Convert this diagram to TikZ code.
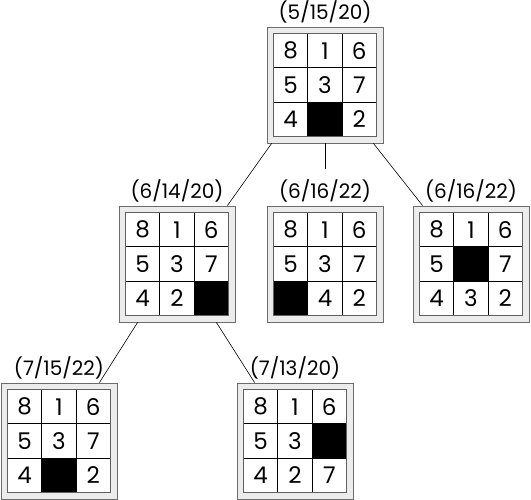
\documentclass[tikz,border=0pt]{standalone}
\usepackage{fontspec}
\setmainfont{Poppins}
\usetikzlibrary{calc,positioning}
\tikzset{%
    board/.style={%
        rectangle, draw=gray!85!black, fill=gray!15, minimum width=116pt, minimum height=116pt, line width=0.8pt
    },
    tile/.style={%
        rectangle, draw=black, fill=white, minimum size=34.3pt, inner sep=0pt, line width=1.2pt, font=\fontsize{23}{23}\selectfont
    },
    hole/.style={%
        tile, fill=black
    },
    frame/.style={%
        draw=gray!75!black, line width=1.5pt
    },
    cost/.style={%
        font=\fontsize{20}{20}\selectfont, inner sep=1pt
    },
    edge/.style={%
        draw, line width=0.6pt
    },
}
\begin{document}
\begin{tikzpicture}[x=1pt,y=1pt]
    \useasboundingbox (0,0) rectangle (531,500);

    \foreach \pname/\x/\y/\g/\h/\f/\tiles in {%
        root/325/415/5/15/20/{8,1,6,5,3,7,4,0,2},
        left/177/236/6/14/20/{8,1,6,5,3,7,4,2,0},
        mid/325/236/6/16/22/{8,1,6,5,3,7,0,4,2},
        right/471/236/6/16/22/{8,1,6,5,0,7,4,3,2},
        leftleft/59/59/7/15/22/{8,1,6,5,3,7,4,0,2},
        leftright/295/59/7/13/20/{8,1,6,5,3,0,4,2,7}}
    {
        \node[board] (\pname) at (\x,\y) {};
        \node[cost, above=2pt of \pname] (\pname-cost) {(\g/\h/\f)};
        \foreach \t [count=\i from 0] in \tiles {
            \pgfmathtruncatemacro{\col}{mod(\i,3)}
            \pgfmathtruncatemacro{\row}{div(\i,3)}
            \ifnum\t=0
                \node[hole] (\pname-\i) at ({\x+(\col-1)*34.3},{\y-(\row-1)*34.3}) {};
            \else
                \node[tile] (\pname-\i) at ({\x+(\col-1)*34.3},{\y-(\row-1)*34.3}) {\t};
            \fi
        }
        \draw[frame] ($(\pname)+(-51.5,-51.5)$) rectangle ($(\pname)+(51.5,51.5)$);
    }

    \draw[edge] ($(root.south west)+(5,0)$) -- ($(left.north east)+(-8,0)$);
    \draw[edge] (root.south) -- ($(mid-cost.north)+(0,10)$);
    \draw[edge] ($(root.south east)+(-10,0)$) -- ($(right.north west)+(10,0)$);
    \draw[edge] ($(left.south west)+(19,0)$) -- ($(leftleft.north east)+(-18,0)$);
    \draw[edge] ($(left.south east)+(-19,0)$) -- ($(leftright.north west)+(18,0)$);
\end{tikzpicture}
\end{document}
